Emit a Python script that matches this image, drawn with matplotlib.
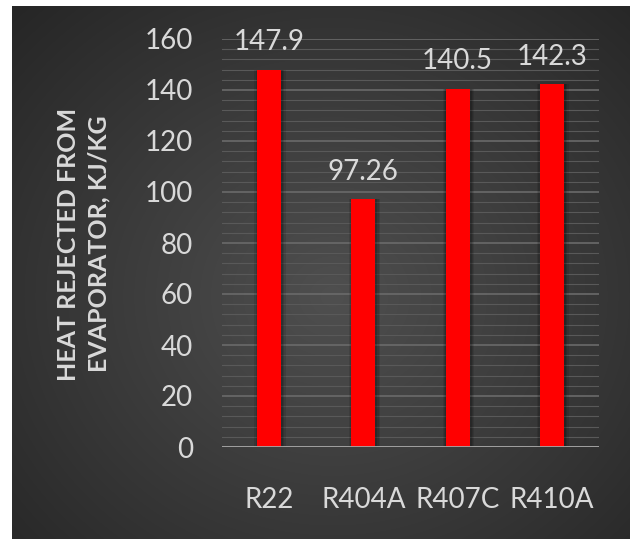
import matplotlib.pyplot as plt
import numpy as np

# refrigerant data
refrigerants = ['R22', 'R404A', 'R407C', 'R410A']
heat_rejected = [147.9, 97.26, 140.5, 142.3]
value_labels = ['147.9', '97.26', '140.5', '142.3']
y_ticks = [0, 20, 40, 60, 80, 100, 120, 140, 160]

plt.rcParams['font.family'] = ['Lato', 'DejaVu Sans']
txt_color = '#d9d9d9'

fig = plt.figure(figsize=(6.3, 5.39), dpi=100, facecolor='white')

# dark radial gradient backdrop
bg = fig.add_axes([12 / 630, 0, 618 / 630, 533 / 539])
bg.set_axis_off()
w, h = 618, 533
xx, yy = np.meshgrid(np.arange(w), np.arange(h))
r = np.sqrt(((xx - 320) / 420.0) ** 2 + ((yy - 290) / 380.0) ** 2)
shade = np.clip(0.31 - 0.15 * r, 0.15, 0.31)
bg.imshow(np.dstack([shade] * 3), aspect='auto', extent=[0, 1, 0, 1])
bg.set_xlim(0, 1)
bg.set_ylim(0, 1)

ax = fig.add_axes([222 / 630, 92 / 539, 377 / 630, 408 / 539])
ax.patch.set_alpha(0)
x = np.arange(len(refrigerants))

# soft shadow behind bars
for k, a in [(0.04, 0.10), (0.025, 0.12), (0.012, 0.15)]:
    ax.bar(x + 0.01, heat_rejected, width=0.255 + 2 * k, color='black', alpha=a,
           zorder=2, linewidth=0)
bars = ax.bar(x, heat_rejected, width=0.255, color='#ff0000', zorder=3, linewidth=0)

for xi, v, lab in zip(x, heat_rejected, value_labels):
    ax.annotate(lab, (xi, v), xytext=(0, 14), textcoords='offset points',
                ha='center', va='baseline', fontsize=20, color=txt_color)

ax.set_xlim(-0.5, 3.5)
ax.set_ylim(0, 160)
ax.set_yticks(y_ticks)
ax.set_yticks(np.arange(0, 161, 4), minor=True)
ax.grid(axis='y', which='major', color='#6a6a6a', linewidth=1.2, zorder=0)
ax.grid(axis='y', which='minor', color='#595959', linewidth=0.8, zorder=0)
ax.axhline(0, color='#a6a6a6', linewidth=2, zorder=4)

ax.set_xticks(x)
ax.set_xticklabels(refrigerants)
ax.tick_params(axis='both', which='both', length=0, colors=txt_color, labelsize=20)
ax.tick_params(axis='y', pad=21)
ax.tick_params(axis='x', pad=29)
for s in ax.spines.values():
    s.set_visible(False)

fig.text(84 / 630, 1 - 244 / 539, 'HEAT REJECTED FROM\nEVAPORATOR, KJ/KG',
         rotation=90, ha='center', va='center', multialignment='center',
         fontsize=18, fontweight='bold', color=txt_color, linespacing=1.4)

fig.savefig('out.png', dpi=100, facecolor='white')
